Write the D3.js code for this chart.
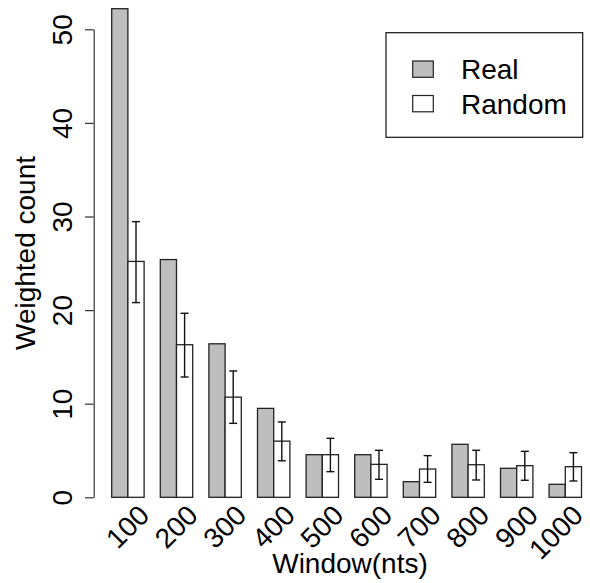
<!DOCTYPE html>
<html>
<head>
<meta charset="utf-8">
<script src="https://cdn.jsdelivr.net/npm/d3@7"></script>
<style>
  html, body { margin: 0; padding: 0; background: #fff; }
  svg { display: block; font-family: "Liberation Sans", Arial, Helvetica, sans-serif; }
</style>
</head>
<body>
<svg id="chart" width="590" height="583"></svg>
<script>
// Weighted counts per window size, real vs. randomised
const windows = ["100", "200", "300", "400", "500", "600", "700", "800", "900", "1000"];
const realCounts = [52.2, 25.4, 16.4, 9.5, 4.55, 4.55, 1.67, 5.66, 3.1, 1.39];
const randomCounts = [25.2, 16.3, 10.7, 6.0, 4.55, 3.52, 3.02, 3.48, 3.38, 3.27];
const randomLower = [20.8, 12.85, 7.9, 3.9, 2.74, 1.92, 1.6, 1.85, 1.82, 1.74];
const randomUpper = [29.45, 19.66, 13.5, 8.05, 6.3, 5.02, 4.45, 5.02, 4.91, 4.77];
const seriesNames = ["Real", "Random"];
const yTicks = [0, 10, 20, 30, 40, 50];

const fills = { Real: "#bebebe", Random: "#ffffff" };
const FONT = 28;
const W = 590;

const svg = d3.select("#chart");

const x = d3.scaleBand()
  .domain(windows)
  .range([103.6, 589.6])
  .paddingInner(1 / 3)
  .paddingOuter(1 / 6);

const xs = d3.scaleBand()
  .domain(seriesNames)
  .range([0, x.bandwidth()]);

const y = d3.scaleLinear()
  .domain([0, 50])
  .range([497.3, 29.3]);

const rows = windows.map((w, i) => ({
  win: w,
  Real: realCounts[i],
  Random: randomCounts[i],
  lo: randomLower[i],
  hi: randomUpper[i]
}));

// bars
const groups = svg.append("g")
  .selectAll("g")
  .data(rows)
  .join("g")
  .attr("transform", d => `translate(${x(d.win)},0)`);

groups.selectAll("rect")
  .data(d => seriesNames.map(s => ({ s, v: d[s] })))
  .join("rect")
  .attr("x", d => xs(d.s))
  .attr("width", xs.bandwidth())
  .attr("y", d => y(d.v))
  .attr("height", d => y(0) - y(d.v))
  .attr("fill", d => fills[d.s])
  .attr("stroke", "#222")
  .attr("stroke-width", 1.3);

// error bars on the random series
const cap = 4;
const eb = groups.append("g")
  .attr("stroke", "#111")
  .attr("stroke-width", 1.4)
  .attr("transform", `translate(${xs("Random") + xs.bandwidth() / 2},0)`);
eb.append("line")
  .attr("x1", 0).attr("x2", 0)
  .attr("y1", d => y(d.lo)).attr("y2", d => y(d.hi));
eb.append("line")
  .attr("x1", -cap).attr("x2", cap)
  .attr("y1", d => y(d.hi)).attr("y2", d => y(d.hi));
eb.append("line")
  .attr("x1", -cap).attr("x2", cap)
  .attr("y1", d => y(d.lo)).attr("y2", d => y(d.lo));

// y axis
const yAxis = svg.append("g")
  .attr("transform", "translate(93.7,0)")
  .call(d3.axisLeft(y).tickValues(yTicks).tickSize(8.7).tickSizeOuter(0));
yAxis.select(".domain").attr("stroke", "#333").attr("stroke-width", 1.2);
yAxis.selectAll(".tick line").attr("stroke", "#333").attr("stroke-width", 1.2);
yAxis.selectAll(".tick text")
  .attr("x", 0).attr("dy", 0)
  .attr("text-anchor", "middle")
  .attr("transform", "translate(-22,0) rotate(-90)")
  .attr("font-size", FONT)
  .attr("font-family", "Liberation Sans, Arial, sans-serif")
  .attr("fill", "#000");

// x tick labels, slanted; nudged left if the rotated box would leave the canvas
svg.append("g")
  .selectAll("text")
  .data(windows)
  .join("text")
  .attr("text-anchor", "end")
  .attr("font-size", FONT)
  .attr("fill", "#000")
  .text(d => d)
  .each(function (d) {
    let ax = x(d) + x.bandwidth() / 2 + 23;
    const place = () => d3.select(this).attr("transform", `translate(${ax},517) rotate(-45)`);
    place();
    const r = this.getBoundingClientRect();
    if (r.right > W - 1) { ax -= r.right - (W - 1); place(); }
  });

// axis titles
svg.append("text")
  .attr("x", 350).attr("y", 573)
  .attr("text-anchor", "middle")
  .attr("font-size", FONT)
  .text("Window(nts)");

svg.append("text")
  .attr("transform", "translate(35,253) rotate(-90)")
  .attr("text-anchor", "middle")
  .attr("font-size", FONT)
  .text("Weighted count");

// legend
const legend = svg.append("g");
legend.append("rect")
  .attr("x", 386).attr("y", 32.7)
  .attr("width", 196.7).attr("height", 104.6)
  .attr("fill", "#fff").attr("stroke", "#111").attr("stroke-width", 1.2);
const items = legend.selectAll("g.item")
  .data(seriesNames)
  .join("g")
  .attr("class", "item")
  .attr("transform", (d, i) => `translate(0,${i * 34.5})`);
items.append("rect")
  .attr("x", 412.7).attr("y", 61)
  .attr("width", 20.6).attr("height", 16.3)
  .attr("fill", d => fills[d])
  .attr("stroke", "#222").attr("stroke-width", 1.2);
items.append("text")
  .attr("x", 461).attr("y", 79)
  .attr("font-size", FONT)
  .text(d => d);
</script>
</body>
</html>
